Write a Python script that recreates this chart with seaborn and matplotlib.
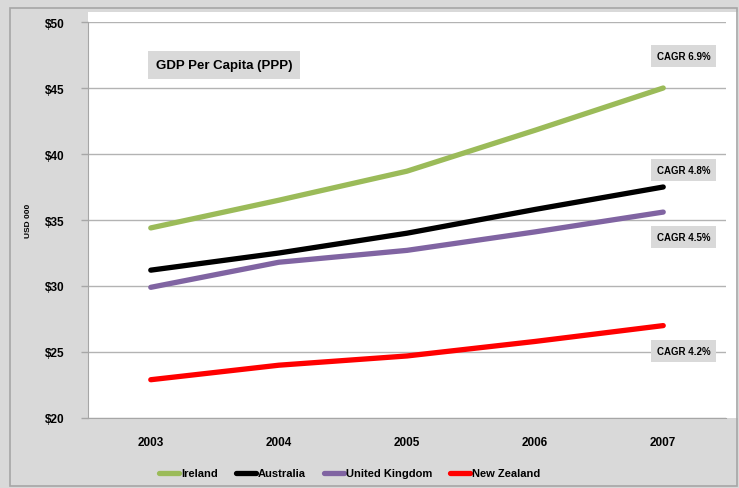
#IMPORTING NECESSARY LIBRARIES
import matplotlib
matplotlib.use('Agg')
import matplotlib.pyplot as plt
from matplotlib.patches import Rectangle
import pandas as pd
import seaborn as sns

#CHART DATA
years = ['2003', '2004', '2005', '2006', '2007']
ireland = [34.4, 36.5, 38.7, 41.8, 45.0]
australia = [31.2, 32.5, 34.0, 35.8, 37.5]
united_kingdom = [29.9, 31.8, 32.7, 34.1, 35.6]
new_zealand = [22.9, 24.0, 24.7, 25.8, 27.0]
countries = ['Ireland', 'Australia', 'United Kingdom', 'New Zealand']
cagr_labels = ['CAGR 6.9%', 'CAGR 4.8%', 'CAGR 4.5%', 'CAGR 4.2%']
cagr_y = [47.4, 38.8, 33.7, 25.1]
colors = ['#9bbb59', '#000000', '#8064a2', '#ff0000']
y_ticks = [20, 25, 30, 35, 40, 45, 50]

#LONG FORM TABLE FOR SEABORN
series = [ireland, australia, united_kingdom, new_zealand]
rows = []
for name, vals in zip(countries, series):
    for i, v in enumerate(vals):
        rows.append({'pos': i, 'Year': years[i], 'Country': name, 'Value': v})
df = pd.DataFrame(rows)

sns.set_style('white')
plt.rcParams['font.family'] = ['Liberation Sans', 'DejaVu Sans']
plt.rcParams['text.color'] = 'black'
plt.rcParams['xtick.color'] = 'black'
plt.rcParams['ytick.color'] = 'black'
plt.rcParams['axes.labelcolor'] = 'black'

fig = plt.figure(figsize=(7.39, 4.89), dpi=100)
fig.patch.set_facecolor('#d9d9d9')
W, H = 739, 489

#OUTER BORDER AND WHITE PLOT AREA (PIXEL COORDS)
fig.patches.append(Rectangle((10 / W, 2 / H), 727 / W, 478 / H, transform=fig.transFigure,
                             facecolor='none', edgecolor='#a6a6a6', linewidth=1.2))
fig.patches.append(Rectangle((88 / W, 70 / H), 650 / W, 406 / H, transform=fig.transFigure,
                             facecolor='white', edgecolor='none', zorder=0))

ax = fig.add_axes([88 / W, 70 / H, 638 / W, 396 / H])
ax.set_zorder(2)
ax.set_facecolor('none')

sns.lineplot(data=df, x='pos', y='Value', hue='Country', palette=colors,
             hue_order=countries, linewidth=3.8, ax=ax, legend=True)

ax.set_xlim(-0.49, 4.49)
ax.set_ylim(20, 50)
ax.set_yticks(y_ticks)
ax.set_yticklabels([f'${t}' for t in y_ticks], fontsize=8.5, fontweight='bold')
ax.set_xticks(range(len(years)))
ax.set_xticklabels(years, fontsize=8.5, fontweight='bold')
ax.tick_params(axis='x', length=0, pad=13)
ax.tick_params(axis='y', length=5, width=1, color='#a6a6a6', labelcolor='black', left=True, pad=12)
ax.grid(axis='y', color='#b3b3b3', linewidth=1)
ax.set_axisbelow(True)
for s in ['top', 'right']:
    ax.spines[s].set_visible(False)
ax.spines['left'].set_color('#a6a6a6')
ax.spines['bottom'].set_color('#a6a6a6')
ax.set_xlabel('')
ax.set_ylabel('USD 000', fontsize=6, fontweight='bold', labelpad=9)

#TITLE BOX
ax.text(0.04, 46.75, 'GDP Per Capita (PPP)', fontsize=9.5, fontweight='bold',
        ha='left', va='center',
        bbox=dict(boxstyle='square,pad=0.6', facecolor='#d9d9d9', edgecolor='none'))

#CAGR BOXES
for lab, yv in zip(cagr_labels, cagr_y):
    ax.text(4.16, yv, lab, fontsize=7, fontweight='bold', ha='center', va='center',
            bbox=dict(boxstyle='square,pad=0.6', facecolor='#d9d9d9', edgecolor='none'))

#LEGEND BELOW
ax.legend(loc='center', bbox_to_anchor=(0.41, -0.14), ncol=4, frameon=False,
          handlelength=1.8, handletextpad=0.2, columnspacing=1.6,
          prop={'weight': 'bold', 'size': 8})

fig.savefig('out.png', dpi=100, facecolor=fig.get_facecolor())
